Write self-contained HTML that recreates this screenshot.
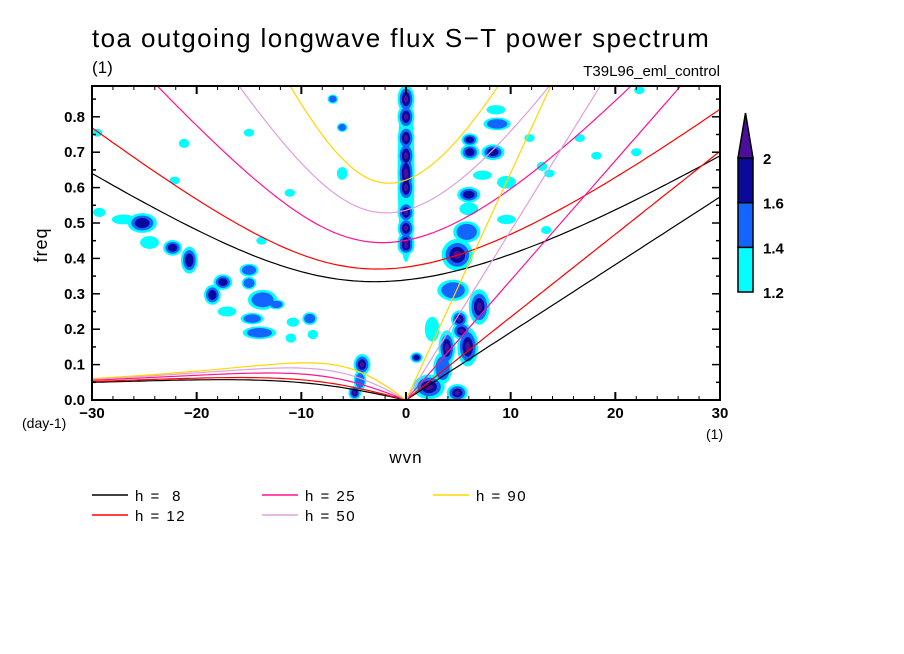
<!DOCTYPE html>
<html><head><meta charset="utf-8">
<style>
html,body{margin:0;padding:0;background:#fff;}
svg{display:block;}
text{font-family:"Liberation Sans",sans-serif;fill:#000;}
</style></head>
<body>
<svg id="chart" width="904" height="654" viewBox="0 0 904 654" xmlns="http://www.w3.org/2000/svg">
<defs><clipPath id="plotclip"><rect x="92" y="86" width="628" height="314"/></clipPath></defs>
<text x="92" y="47" font-size="26" letter-spacing="1.4">toa outgoing longwave flux S−T power spectrum</text>
<text x="92" y="73" font-size="17">(1)</text>
<text x="720" y="76" font-size="15" text-anchor="end">T39L96_eml_control</text>
<g id="blobs" clip-path="url(#plotclip)"></g>
<g id="curves" clip-path="url(#plotclip)"></g>
<rect x="92" y="86" width="628" height="314" fill="none" stroke="#000" stroke-width="2"/>
<g id="axes"></g>
<text transform="translate(47,245) rotate(-90)" font-size="18" text-anchor="middle" letter-spacing="1">freq</text>
<text x="406" y="463" font-size="17" text-anchor="middle" letter-spacing="1">wvn</text>
<text x="22" y="428" font-size="14">(day-1)</text>
<text x="706" y="439" font-size="14">(1)</text>
<g id="colorbar"></g>
<g id="legend"></g>
</svg>
<script>
// ---- data ----
const hValues = [8, 12, 25, 50, 90];
const hColors = ["#000000", "#ff0000", "#ff1493", "#dda0dd", "#ffd700"];
const xTicks = [-30, -20, -10, 0, 10, 20, 30];
const yTicks = [0.0, 0.1, 0.2, 0.3, 0.4, 0.5, 0.6, 0.7, 0.8];
const levelValues = [1.2, 1.4, 1.6, 2];
const levelColors = ["#00ffff", "#1464ff", "#0a0a9a", "#4b0f9b"];
// contour blobs: wavenumber, freq, radius (wvn), radius (freq), level
const blobK = [0,0,0,0,0,0,0,0,0,0,0, 4.9,7.0,5.1,5.3,3.9,5.9,2.2,4.9,-4.2,-4.9,1.0,4.5,
  6.1,8.3,6.1,6.0,8.6,8.7,7.3,9.6,5.8,9.6,-6.1,-6.1,-7,6,11.8,13,
  16.6,18.2,22,22.3,13.7,13.4,
  -25.2,-27,-24.5,-22.3,-20.7,-17.5,-18.5,-17.1,-15,-15,-13.7,-12.4,-14.7,-14,-9.2,-8.9,-10.8,-11,-29.3,-29.5,-21.2,-22.1,-15,-13.8,-11.1,-4.4, 3.5, 2.5];
const blobF = [0.85,0.80,0.74,0.69,0.64,0.60,0.53,0.485,0.445,0.435,0.64, 0.41,0.263,0.228,0.195,0.147,0.15,0.037,0.02,0.10,0.02,0.12,0.31,
  0.70,0.70,0.735,0.58,0.82,0.78,0.635,0.615,0.475,0.51,0.64,0.77,0.85,0.54,0.74,0.66,
  0.74,0.69,0.70,0.875,0.64,0.48,
  0.50,0.51,0.445,0.43,0.395,0.333,0.297,0.25,0.367,0.33,0.283,0.27,0.23,0.19,0.23,0.185,0.22,0.175,0.53,0.755,0.725,0.62,0.755,0.45,0.585,0.055, 0.09, 0.2];
const blobRK = [0.8,0.8,0.8,0.8,0.8,0.8,0.8,0.8,0.8,0.8,0.8, 1.5,1.0,0.8,0.9,0.8,1.0,1.5,1.0,0.8,0.6,0.6,1.5,
  0.9,1.1,0.8,1.1,0.9,1.3,0.9,0.9,1.3,0.9,0.5,0.5,0.5,0.9,0.5,0.5,
  0.5,0.5,0.5,0.5,0.5,0.5,
  1.4,1.1,0.9,0.9,0.8,0.9,0.8,0.9,0.9,0.7,1.4,0.8,1.1,1.6,0.7,0.5,0.6,0.5,0.6,0.5,0.5,0.5,0.5,0.5,0.5,0.6, 0.9, 0.7];
const blobRF = [0.04,0.035,0.035,0.04,0.06,0.04,0.03,0.03,0.03,0.025,0.25, 0.045,0.05,0.025,0.025,0.05,0.055,0.035,0.025,0.03,0.02,0.015,0.03,
  0.022,0.022,0.018,0.022,0.013,0.018,0.013,0.018,0.03,0.013,0.018,0.013,0.013,0.018,0.011,0.013,
  0.011,0.011,0.011,0.011,0.011,0.011,
  0.028,0.014,0.018,0.022,0.038,0.022,0.028,0.014,0.018,0.018,0.028,0.014,0.016,0.018,0.018,0.013,0.013,0.013,0.013,0.011,0.013,0.011,0.011,0.011,0.011,0.028, 0.045, 0.035];
const blobLevel = [4,4,4,4,4,4,4,4,4,4,1, 4,4,4,4,4,4,4,4,4,4,3,2,
  3,3,3,3,1,2,1,1,2,1,1,2,2,1,1,1,
  1,1,1,1,1,1,
  3,1,1,3,3,3,3,1,2,2,2,2,2,2,2,1,1,1,1,1,1,1,1,1,1,2, 2, 1];

// ---- scales ----
const X0 = 92, X1 = 720, Y0 = 400, Y1 = 86;
const kMin = -30, kMax = 30, fMin = 0, fMax = 0.887;
const xs = k => X0 + (k - kMin) / (kMax - kMin) * (X1 - X0);
const ys = f => Y0 - (f - fMin) / (fMax - fMin) * (Y0 - Y1);
const NS = "http://www.w3.org/2000/svg";
function mk(tag, attrs, parent) {
  const e = document.createElementNS(NS, tag);
  for (const a in attrs) e.setAttribute(a, attrs[a]);
  parent.appendChild(e);
  return e;
}

// ---- blobs ----
const gB = document.getElementById("blobs");
for (let lev = 1; lev <= 4; lev++) {
  for (let i = 0; i < blobK.length; i++) {
    if (blobLevel[i] < lev) continue;
    const s = 1 - (lev - 1) * 0.25;
    const rx = blobRK[i] * s * (X1 - X0) / (kMax - kMin);
    const ry = blobRF[i] * s * (Y0 - Y1) / (fMax - fMin);
    const e = mk("ellipse", {cx: xs(blobK[i]), cy: ys(blobF[i]), rx: rx, ry: ry, fill: levelColors[lev - 1]}, gB);
    
    
  }
}

// ---- dispersion curves ----
const g = 9.81, beta = 2 * 7.292e-5 / 6.371e6, circ = 2 * Math.PI * 6.371e6;
const toCpd = w => w * 86400 / (2 * Math.PI);
function roots(k, c) {
  const p = -c * c * (k * k + 3 * beta / c), q = -beta * k * c * c;
  const m = 2 * Math.sqrt(-p / 3);
  const arg = Math.max(-1, Math.min(1, (3 * q / (p * m))));
  const th = Math.acos(arg) / 3;
  return [0, 1, 2].map(j => m * Math.cos(th - 2 * Math.PI * j / 3));
}
const gC = document.getElementById("curves");
hValues.forEach((h, hi) => {
  const c = Math.sqrt(g * h);
  const igPts = [], ro = [], kel = [];
  for (let wn = -31; wn <= 31.001; wn += 0.5) {
    const k = 2 * Math.PI * wn / circ;
    const r = roots(k, c).filter(v => v > 1e-12).sort((a, b) => b - a);
    igPts.push([wn, toCpd(r[0])]);
    if (wn < 0 && r.length > 1) ro.push([wn, toCpd(r[r.length - 1])]);
    if (wn >= 0) kel.push([wn, toCpd(c * k)]);
  }
  ro.push([0, 0]);
  [igPts, ro, kel].forEach((pts, j) => {
    const p = mk("polyline", {points: pts.map(q => xs(q[0]).toFixed(1) + "," + ys(q[1]).toFixed(1)).join(" "), fill: "none", stroke: hColors[hi], "stroke-width": 1.2}, gC);
    
    
  });
});

// ---- axes ----
const gA = document.getElementById("axes");
for (let k = -30; k <= 30; k += 2) {
  const major = k % 10 === 0, len = major ? 8 : 4;
  mk("line", {x1: xs(k), x2: xs(k), y1: Y0, y2: Y0 - len, stroke: "#000", "stroke-width": major ? 2 : 1}, gA);
  mk("line", {x1: xs(k), x2: xs(k), y1: Y1, y2: Y1 + len, stroke: "#000", "stroke-width": major ? 2 : 1}, gA);
}
for (let f = 0; f <= 0.86; f += 0.05) {
  const major = Math.abs(f * 10 - Math.round(f * 10)) < 1e-6, len = major ? 8 : 4;
  mk("line", {x1: X0, x2: X0 + len, y1: ys(f), y2: ys(f), stroke: "#000", "stroke-width": 1.5}, gA);
  mk("line", {x1: X1, x2: X1 - len, y1: ys(f), y2: ys(f), stroke: "#000", "stroke-width": 1.5}, gA);
}
xTicks.forEach(k => {
  const t = mk("text", {x: xs(k), y: 418, "font-size": 15, "font-weight": "bold", "text-anchor": "middle"}, gA);
  t.textContent = (k < 0 ? "−" + (-k) : String(k));
  
  
});
yTicks.forEach(f => {
  const t = mk("text", {x: 85, y: ys(f) + 5, "font-size": 15, "font-weight": "bold", "text-anchor": "end"}, gA);
  t.textContent = f.toFixed(1);
  
  
});

// ---- colorbar (equal-height segments per level interval) ----
const gCB = document.getElementById("colorbar");
const cbX = 738, cbW = 15, cbTop = 158, cbBot = 292;
const nSeg = levelValues.length - 1;
const segY = idx => cbBot - idx / nSeg * (cbBot - cbTop);
for (let i = 0; i < nSeg; i++) {
  const r = mk("rect", {x: cbX, y: segY(i + 1), width: cbW, height: segY(i) - segY(i + 1), fill: levelColors[i], stroke: "#000", "stroke-width": 1.5}, gCB);
  
  
}
const tri = mk("polygon", {points: `${cbX},${cbTop} ${cbX + cbW},${cbTop} ${cbX + cbW / 2},${113}`, fill: levelColors[3], stroke: "#000", "stroke-width": 1.5}, gCB);


levelValues.forEach((v, i) => {
  const t = mk("text", {x: 763, y: segY(i) + 6, "font-size": 15, "font-weight": "bold"}, gCB);
  t.textContent = String(v);
  
  
});

// ---- legend ----
const gL = document.getElementById("legend");
const legX = [92, 92, 262, 262, 433], legY = [495, 515, 495, 515, 495];
const legTxt = ["h =  8", "h = 12", "h = 25", "h = 50", "h = 90"];
hValues.forEach((h, i) => {
  const l = mk("line", {x1: legX[i], x2: legX[i] + 36, y1: legY[i], y2: legY[i], stroke: hColors[i], "stroke-width": 1.5}, gL);
  
  
  const t = mk("text", {x: legX[i] + 43, y: legY[i] + 6, "font-size": 15, "letter-spacing": 1.5}, gL);
  t.setAttribute("style", "white-space:pre");
  t.textContent = legTxt[i];
  
  
});
</script>
</body></html>
